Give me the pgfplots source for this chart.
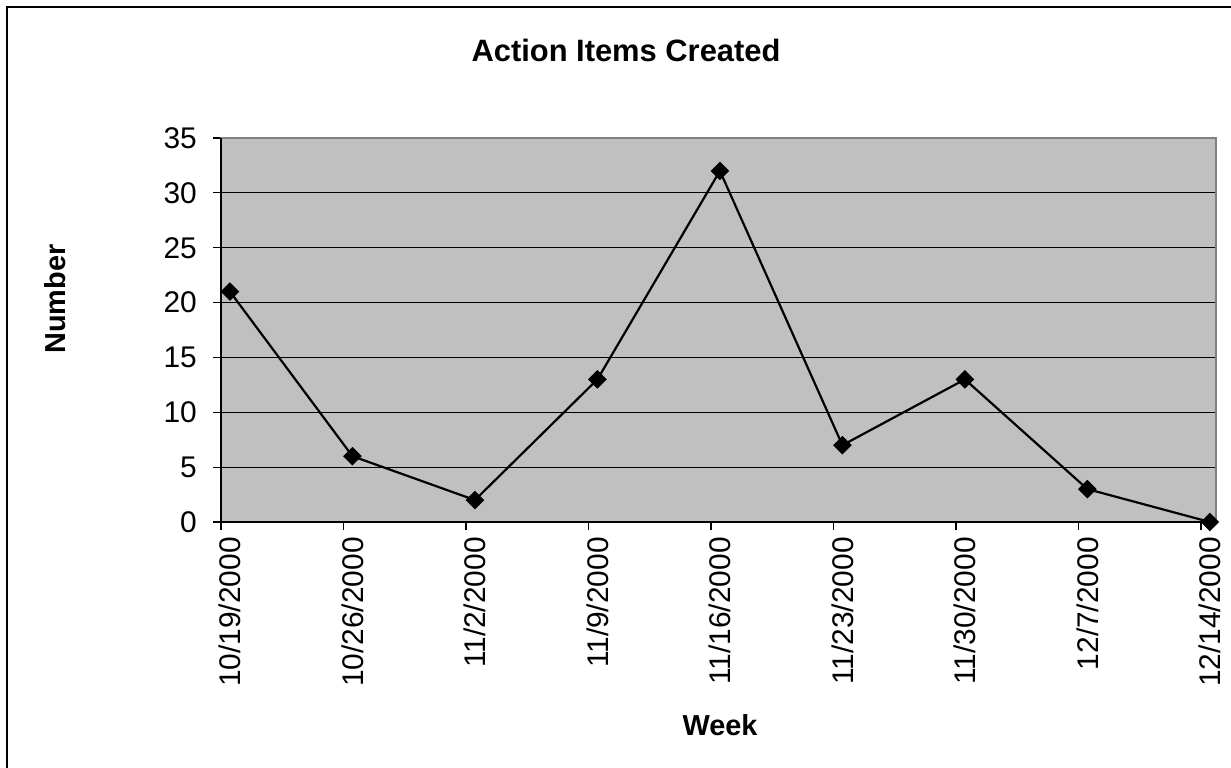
\documentclass[border=0pt]{standalone}
\usepackage{fontspec}
\setmainfont{Liberation Sans}
\usepackage{pgfplots}
\pgfplotsset{compat=1.18}
\definecolor{plotgray}{RGB}{192,192,192}
\definecolor{bordergray}{RGB}{128,128,128}
\begin{document}
\begin{tikzpicture}
\path[use as bounding box] (0,0) rectangle (1231bp,-768bp);
\draw[line width=1.5bp] (7bp,-1000bp) -- (7bp,-7bp) -- (1500bp,-7bp);
\node[font=\bfseries\fontsize{31}{37}\selectfont] at (626bp,-50bp) {Action Items Created};
\node[font=\bfseries\fontsize{29}{35}\selectfont, rotate=90] at (55bp,-299bp) {Number};
\node[font=\bfseries\fontsize{29}{35}\selectfont] at (720bp,-725bp) {Week};
\begin{axis}[
  at={(221bp,-522bp)}, anchor=south west,
  scale only axis, width=995bp, height=384bp,
  xmin=-0.073, xmax=8.05, ymin=0, ymax=35,
  xtick={-0.073,0.927,1.927,2.927,3.927,4.927,5.927,6.927,7.927},
  xticklabels={},
  extra x ticks={0,1,2,3,4,5,6,7,8},
  extra x tick labels={10/19/2000,10/26/2000,11/2/2000,11/9/2000,11/16/2000,11/23/2000,11/30/2000,12/7/2000,12/14/2000},
  extra x tick style={major tick length=0pt},
  ytick={0,5,10,15,20,25,30,35},
  tick pos=left,
  /pgf/number format/assume math mode=true,
  ticklabel style={font=\fontsize{30}{36}\selectfont, inner sep=0pt},
  xticklabel style={rotate=90, anchor=east},
  xticklabel shift=15bp,
  yticklabel style={anchor=east},
  yticklabel shift=16bp,
  tick align=outside,
  major tick length=8bp,
  tick style={black, line width=1.2bp},
  ymajorgrids,
  major grid style={black, line width=1bp},
  axis line style={bordergray, line width=1.5bp},
  axis background/.style={fill=plotgray},
  clip=false,
]
\addplot[black, line width=2.2bp, mark=square*, mark size=5.5bp, mark options={rotate=45, solid, fill=black}]
  coordinates {(0,21) (1,6) (2,2) (3,13) (4,32) (5,7) (6,13) (7,3) (8,0)};
\draw[black, line width=1.5bp] (rel axis cs:0,1) -- (rel axis cs:0,0) -- (rel axis cs:1,0);
\end{axis}
\end{tikzpicture}
\end{document}
